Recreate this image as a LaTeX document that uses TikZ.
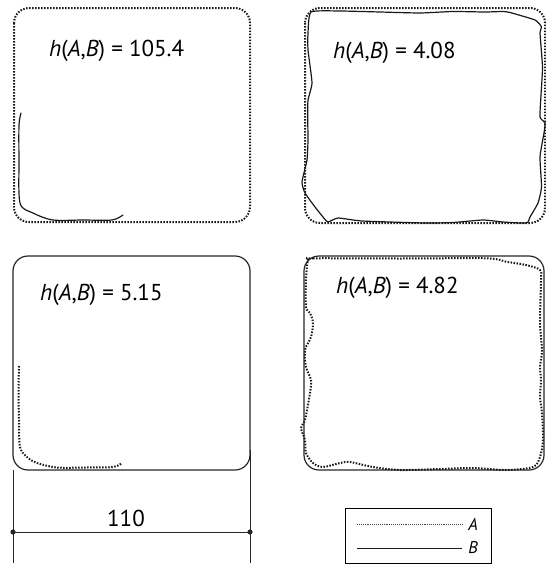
\documentclass[tikz,border=0pt]{standalone}
\usepackage{fontspec}
\setmainfont{PT Sans}
\begin{document}
\begin{tikzpicture}[x=1pt,y=-1pt,
 setA/.style={line width=2pt, dash pattern=on 1.5pt off 1.5pt, black!90},
 setB/.style={line width=1.2pt, black!90, line join=round, line cap=round},
 frameB/.style={line width=1.2pt, black!85},
 lbl/.style={anchor=base west, inner sep=0pt, font=\fontsize{23}{23}\selectfont},
 dimline/.style={line width=0.9pt, black!85},
 legtext/.style={inner sep=0pt, font=\fontsize{17}{17}\selectfont\itshape},
]
\useasboundingbox (0,0) rectangle (546,565);

% ---------- panel 1 ----------
\draw[setA, rounded corners=15] (14,8) rectangle (250,222);
\draw[setB] plot[smooth, tension=0.5] coordinates {(21,113) (19,125) (19,160) (20,203) (33,213) (53,220) (83,220) (112,220) (123,215)};
\node[lbl] (t1) at (49,56) {\textit{h}(\textit{A},\textit{B}) = 105.4};

% ---------- panel 2 ----------
\draw[setA, rounded corners=15] (305,8) rectangle (545,223);
\draw[setB] plot[smooth cycle, tension=0.3] coordinates {
 (311,12) (340,11) (380,12) (420,13) (453,11.5) (485,12) (503,11.5) (510,12.5) (535,20) (541.5,27)
 (540,33) (542.5,67) (541,95) (540,117) (545,123) (544,133) (540,157) (541.5,187) (538,203) (530,217)
 (526.5,223) (503,222) (483,220) (453,222.5) (425,223) (362,221) (338,218) (328,222) (323,217) (315,207)
 (305,193) (302,182) (307,160) (308,140) (307.7,117) (308,100) (312,83) (308,50) (308,33)};
\node[lbl] (t2) at (333,58) {\textit{h}(\textit{A},\textit{B}) = 4.08};

% ---------- panel 3 ----------
\draw[frameB, rounded corners=15] (13,256) rectangle (250,470);
\draw[setA] plot[smooth, tension=0.5] coordinates {(19,366) (18.5,390) (19,420) (20,447) (27,457) (37,463) (57,467.5) (85,467.5) (113,467) (122,463)};
\node[lbl] (t3) at (40,300) {\textit{h}(\textit{A},\textit{B}) = 5.15};

% ---------- panel 4 ----------
\draw[frameB, rounded corners=15] (304,256) rectangle (544,470);
\draw[setA] plot[smooth cycle, tension=0.5] coordinates {
 (308,260) (313,258.3) (400,258.5) (486,258.3) (506,261.7) (526,265) (540,270)
 (541,280) (540,323) (542,350) (540,367) (541,380) (540,397) (542,413) (543,440) (540,457) (533,467)
 (506,470) (473,468) (440,469) (400,470) (373,467) (350,462) (340,463) (323,467) (313,463)
 (306,453) (305,440) (301,428) (305,420) (310,393) (311,380) (306,367) (305,350) (311,337) (313,323) (310,313) (306,307) (306,280)};
\node[lbl] (t4) at (336,293) {\textit{h}(\textit{A},\textit{B}) = 4.82};

% ---------- dimension ----------
\coordinate (el1) at (13,470);
\coordinate (el1b) at (13,563);
\coordinate (el2) at (250,450);
\coordinate (el2b) at (250,563);
\draw[dimline] (el1) -- (el1b);
\draw[dimline] (el2) -- (el2b);
\coordinate (dl) at (13,532);
\coordinate (dr) at (250,532);
\draw[dimline] (dl) -- (dr);
\fill[black!85] (dl) circle (2.6);
\fill[black!85] (dr) circle (2.6);
\node[anchor=base, inner sep=0pt, font=\fontsize{23}{23}\selectfont] (dim) at (126,526) {110};

% ---------- legend ----------
\node[draw, line width=0.7pt, minimum width=146pt, minimum height=55pt, anchor=north west, inner sep=0pt] (leg) at (345,508) {};
\coordinate (la1) at (357,524);
\coordinate (la2) at (462,524);
\coordinate (lb1) at (357,548);
\coordinate (lb2) at (462,548);
\draw[line width=0.9pt, dash pattern=on 0.7pt off 1.2pt, black!75] (la1) -- (la2);
\draw[line width=0.9pt, black!90] (lb1) -- (lb2);
\node[legtext] (legA) at (473,524) {A};
\node[legtext] (legB) at (473,548) {B};
\end{tikzpicture}
\end{document}
